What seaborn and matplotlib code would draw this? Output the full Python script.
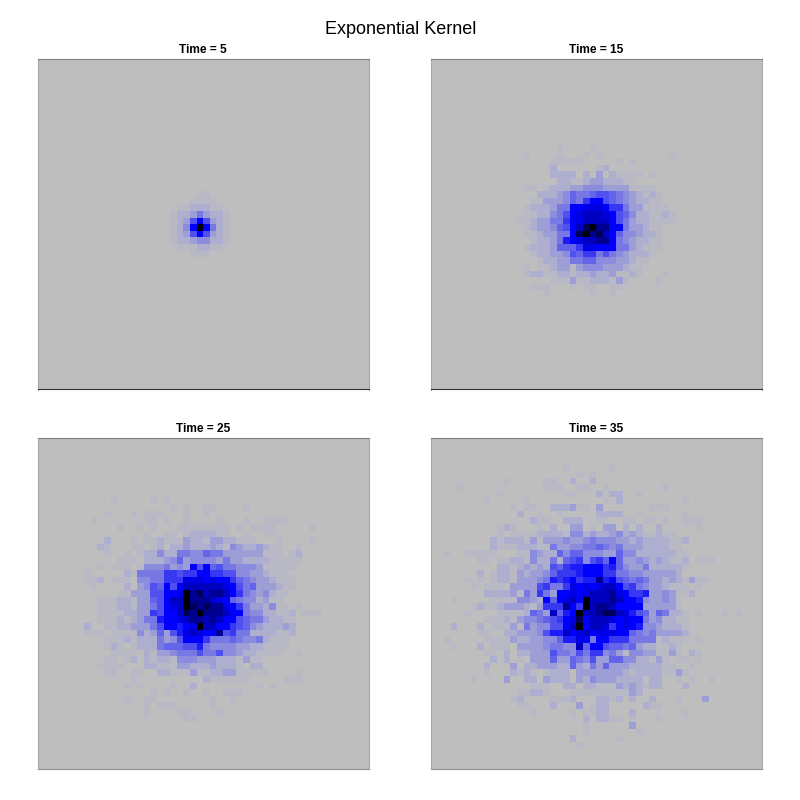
#!/usr/bin/env python3
# -*- coding: utf-8 -*-
"""
Exponential kernel spread at four time steps, one heatmap per time
"""
import matplotlib
matplotlib.use('Agg')
import matplotlib.pyplot as plt
from matplotlib.colors import LinearSegmentedColormap
import seaborn as sns
import numpy as np

GRID_SIZE = 50
times = [5, 15, 25, 35]

# Cell levels, one hex digit per cell (0 = grey, a = blue, f = black)
time5_first = (20, 20)
time5_rows = [
    "000011000",
    "000111100",
    "011222110",
    "122353221",
    "1237a7321",
    "124afa521",
    "1237a7321",
    "122344221",
    "011122110",
    "000111000",
]

time15_first = (13, 13)
time15_rows = [
    "0000001000010000000000000",
    "0100001000101000000000010",
    "0000011111000001010000000",
    "0000020000001200000000000",
    "0000022220203021111010000",
    "0000002211233222110000000",
    "0110122233444333311110000",
    "0002223465567765432121000",
    "00113334658aa765432211000",
    "01222355aabbba88533111100",
    "01122457abcccba7642211210",
    "11233558abcccca7532211110",
    "01233467acefddaa533211000",
    "01123355aefdeca6443221000",
    "00122359abccdda5432211000",
    "0122236668bbaaa5532111000",
    "0012233476885754322210000",
    "0001223355664443321100000",
    "0101123313444333211000000",
    "0122112212232231121000100",
    "0000011131122213100001000",
    "0011100010110011000000000",
    "0000100000010010000000000",
]

time25_first = (9, 7)
time25_rows = [
    "000010000010100000000000000000000000",
    "000000000000010100110000100000000000",
    "000100010111000100100000000000000000",
    "010000000110100100001000100111100000",
    "000001001010001111111101011110000010",
    "000000000100110122221100100110000000",
    "000200010112111322133221110001000010",
    "002100011012022322232143223211001000",
    "000100101224225544655333333111012000",
    "000001110222346344443533222211111000",
    "0010111014445343a7a67554443111110000",
    "10000021555588788aa88774433211100000",
    "112011104455888bbbabaa86543321110000",
    "010000203476a7accccccba7563332110000",
    "000001133377aabfdecddca8543421100000",
    "001112213367accfdddcba65442311000000",
    "001112213357abcfededdba8533241101000",
    "001111223387aacedfdddcaa544221120111",
    "001112123559aabcddcdcaa7655322110000",
    "200112233357aa9abfccaa87643222320000",
    "111011114236379bcbaad785522221120000",
    "000111212225347aaa855565445211100000",
    "000121012225666779544443322111100000",
    "000011110213345557557443221111001000",
    "000110120212214443332221311000000000",
    "001111000221113322232221022000000000",
    "000110011002211131122331111100001000",
    "000000010000000000211111100000111000",
    "000000101000010020000000001010000000",
    "000000000010100100100111000000000000",
    "000000100110000000010010000000000000",
    "000000000101110000010000000000000000",
    "000000000100001100001000000000000000",
    "000000000000000110000000000000000000",
]

time35_first = (4, 2)
time35_rows = [
    "000000000000000000100000010",
    "00000000000000000000101",
    "000000000100000110020020",
    "0010000000000001110011001000000001",
    "000000001000000000110002022001",
    "0000001000001000000000001020000000001",
    "0000000000101100222311030000000111",
    "0000000000020010010000022220010000001",
    "000000000000021100222001100110110100111",
    "000000001210001020033010330202002000001",
    "00000000101111222214423223423211211",
    "0000000212221313334334544433232222112",
    "000000021112221153344556545333222211",
    "1001111100011432264664443364422222211",
    "0000011011221422526784786a633432321120111",
    "000000002212323276899aaa8964335222221",
    "000002012213233468889aaa885544333332",
    "0001010122133345989a899d9a76565332321311",
    "0000101110333378558bababcca785433211101",
    "00000022223153853aababcccdba8893343112",
    "010000011114432a6abcafcccdcaa9433431",
    "000012112333213888da8fcddcaaaa333331",
    "0001000011112653c69afccdeecb97636522101000101",
    "000000111213445678abeacccbabaa5342211",
    "020002011131534477acfaccb8aba94432221",
    "000001100223334799cabcabbbaa654533332",
    "10000011113223344699ba5aa88855551211101",
    "01000201110333345544c6aa766563221121",
    "000000110202233375547588453144331131021",
    "000000020201033363365473366442213101101",
    "00000020003022333226325363332222211001",
    "0000001000212101222033333332122221131",
    "00001000030022032220324333222202200101001",
    "0000000000000111002202211132321220002",
    "000000000001122100011111111132",
    "0000000000120000111200022120200200010003",
    "000000000001100020003012200000211",
    "0000000000000100000101122000200000001",
    "000000000000000000000202211010001",
    "00000000000000000000010000003",
    "000000000000000000000100000001",
    "000000000000000000020000001",
    "000000000000000000001",
]


def to_grid(rows, first):
    grid = np.zeros((GRID_SIZE, GRID_SIZE))
    for i, row in enumerate(rows):
        for j, ch in enumerate(row):
            grid[first[0] + i, first[1] + j] = int(ch, 16)
    return grid


panels = [
    (time5_rows, time5_first),
    (time15_rows, time15_first),
    (time25_rows, time25_first),
    (time35_rows, time35_first),
]

# One colour per level: grey background, pale lilac fringe, blue, then navy to black
level_colors = ['#bebebe', '#b9b9c6', '#aeaecf', '#9e9ed6', '#8c8cde', '#7878e4',
                '#6464ea', '#5050ee', '#3838f2', '#1c1cf8', '#0000ff',
                '#0000e4', '#0000c0', '#000090', '#000058', '#000000']
kernel_cmap = LinearSegmentedColormap.from_list(
    'kernel', [(i / 15, c) for i, c in enumerate(level_colors)])

sns.set_style("white")
plt.rcParams['font.family'] = ['Liberation Sans', 'DejaVu Sans']
plt.rcParams['text.color'] = 'black'
plt.rcParams['axes.titlecolor'] = 'black'

fig = plt.figure(figsize=(8, 8), dpi=100)
lefts = [38, 431, 38, 431]
tops = [59, 59, 438, 438]
side = 330.5

for k, (rows, first) in enumerate(panels):
    ax = fig.add_axes([lefts[k] / 800, 1 - (tops[k] + side) / 800, side / 800, side / 800])
    sns.heatmap(to_grid(rows, first), ax=ax, cmap=kernel_cmap, vmin=0, vmax=15,
                cbar=False, xticklabels=False, yticklabels=False, square=False)
    for name, spine in ax.spines.items():
        spine.set_visible(True)
        spine.set_linewidth(0.8)
        spine.set_color('#a8a8a8')
    ax.spines['top'].set_color('#808080')
    ax.spines['bottom'].set_color('#333333' if k < 2 else '#909090')
    ax.set_title('Time = %d' % times[k], fontsize=8.6, weight='bold', pad=4.5)

fig.text(0.501, 1 - 29.5 / 800, 'Exponential Kernel', ha='center', va='center', fontsize=13)

plt.savefig('out.png', dpi=100)
